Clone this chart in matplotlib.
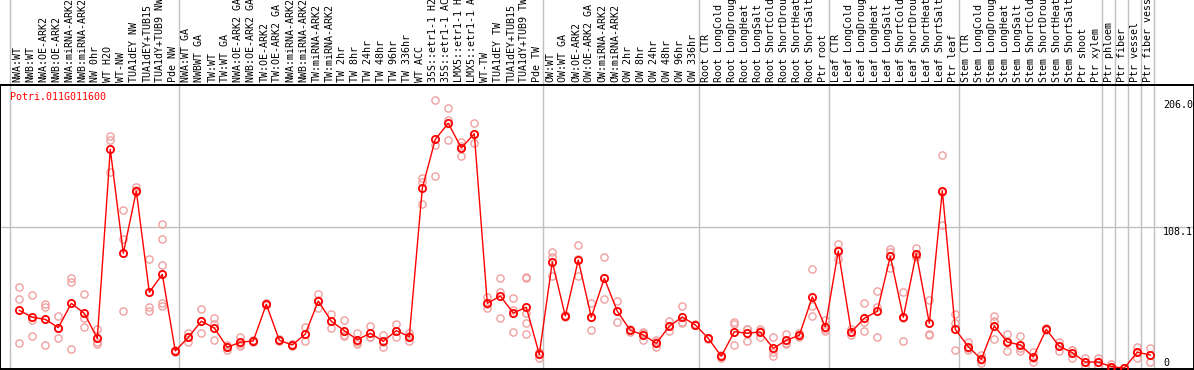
import matplotlib
matplotlib.use("Agg")
import matplotlib.pyplot as plt
import matplotlib.transforms as mtransforms

gene = "Potri.011G011600"

samples = [
    "NWA:WT", "NWB:WT", "NWA:OE-ARK2", "NWB:OE-ARK2", "NWA:miRNA-ARK2",
    "NWB:miRNA-ARK2", "NW 0hr", "WT H2O", "WT-NW", "TUA1dEY NW",
    "TUA1dEY+TUB15", "TUA1dY+TUB9 NW", "Pde NW",
    "NWA:WT GA", "NWBWT GA", "TW:WT", "TW:WT GA", "NWA:OE-ARK2 GA",
    "NWB:OE-ARK2 GA", "TW:OE-ARK2", "TW:OE-ARK2 GA", "NWA:miRNA-ARK2",
    "NWB:miRNA-ARK2", "TW:miRNA-ARK2", "TW:miRNA-ARK2", "TW 2hr", "TW 8hr",
    "TW 24hr", "TW 48hr", "TW 96hr", "TW 336hr", "WT ACC", "35S::etr1-1 H2O",
    "35S::etr1-1 ACC", "LMX5::etr1-1 H2O", "LMX5::etr1-1 ACC", "WT-TW",
    "TUA1dEY TW", "TUA1dEY+TUB15", "TUA1dY+TUB9 TW", "Pde TW",
    "OW:WT", "OW:WT GA", "OW:OE-ARK2", "OW:OE-ARK2 GA", "OW:miRNA-ARK2",
    "OW:miRNA-ARK2", "OW 2hr", "OW 8hr", "OW 24hr", "OW 48hr", "OW 96hr",
    "OW 336hr",
    "Root CTR", "Root LongCold", "Root LongDrought", "Root LongHeat",
    "Root LongSalt", "Root ShortCold", "Root ShortDrought", "Root ShortHeat",
    "Root ShortSalt", "Ptr root",
    "Leaf CTR", "Leaf LongCold", "Leaf LongDrought", "Leaf LongHeat",
    "Leaf LongSalt", "Leaf ShortCold", "Leaf ShortDrought", "Leaf ShortHeat",
    "Leaf ShortSalt", "Ptr leaf",
    "Stem CTR", "Stem LongCold", "Stem LongDrought", "Stem LongHeat",
    "Stem LongSalt", "Stem ShortCold", "Stem ShortDrought", "Stem ShortHeat",
    "Stem ShortSalt", "Ptr shoot", "Ptr xylem",
    "Ptr phloem", "Ptr fiber", "Ptr vessel", "Ptr fiber vessel",
]

# index where each group of samples starts (vertical separators)
group_starts = [0, 13, 41, 53, 63, 73, 84, 85, 86, 87, 88]

means = [
    44.3, 39.0, 37.4, 31.0, 49.7, 42.0, 22.8, 168.1, 88.2, 136.0,
    58.2, 72.0, 13.1, 23.6, 35.9, 30.7, 15.9, 19.8, 20.8, 49.0,
    21.3, 17.7, 26.1, 51.5, 35.9, 28.7, 21.8, 26.7, 20.5, 28.7,
    24.1, 138.1, 175.8, 188.1, 169.1, 180.1, 49.7, 55.3, 42.3, 46.7,
    10.5, 81.5, 40.0, 83.0, 39.0, 68.9, 43.6, 29.0, 25.4, 19.0,
    32.1, 39.2, 33.1, 22.8, 9.0, 27.9, 26.7, 27.7, 15.1, 21.3,
    25.1, 54.6, 31.7, 89.9, 27.7, 38.2, 43.6, 85.9, 39.0, 87.9,
    34.4, 136.3, 29.7, 16.4, 6.7, 32.3, 20.0, 17.7, 8.5, 29.7,
    16.7, 11.8, 4.6, 4.6, 1.0, 0.0, 12.1, 10.0,
]

replicates = [
    [62.0, 52.8, 19.0], [55.9, 36.7, 24.6], [49.4, 47.1, 17.4],
    [39.7, 30.5, 22.8], [68.9, 65.9, 14.4], [57.1, 38.2, 31.3],
    [29.7, 20.2, 18.4], [178.3, 175.3, 150.9], [121.2, 99.2, 43.6],
    [139.4, 136.8, 135.5], [83.6, 47.1, 43.6],
    [110.4, 98.9, 78.9, 49.7, 47.7], [13.9, 12.5, 13.0],
    [27.1, 23.5, 20.2], [45.3, 35.8, 26.6], [38.2, 33.6, 21.3],
    [17.7, 16.0, 13.8], [24.1, 18.6, 16.7], [21.8, 21.0, 19.8],
    [49.8, 49.0, 48.3], [22.0, 21.3, 20.7], [18.2, 17.6, 17.2],
    [31.3, 26.0, 21.0], [56.6, 51.9, 45.9], [41.3, 35.9, 30.5],
    [36.7, 25.1, 24.3], [26.7, 20.0, 18.7], [32.5, 24.0, 23.6],
    [25.4, 20.2, 15.9], [34.1, 28.4, 23.6], [26.9, 24.4, 21.0],
    [145.8, 143.2, 125.8], [206.0, 171.4, 147.6], [199.6, 190.6, 175.0],
    [173.5, 171.0, 163.0], [188.1, 179.5, 172.7], [54.6, 49.0, 45.9],
    [68.9, 58.6, 38.2], [53.6, 44.4, 27.9],
    [69.7, 68.9, 42.0, 34.6, 25.9], [12.5, 11.0, 7.5],
    [88.9, 85.0, 70.5], [40.5, 40.0, 39.5], [94.3, 84.0, 70.5],
    [49.7, 39.0, 29.0], [85.1, 68.9, 52.8], [51.5, 44.0, 35.1],
    [30.0, 29.5, 27.5], [27.9, 26.8, 21.5], [21.5, 19.6, 15.9],
    [36.1, 32.0, 28.4], [47.7, 35.5, 34.4], [33.5, 33.0, 32.8],
    [23.2, 22.8, 22.4], [10.0, 9.0, 8.0], [35.1, 33.6, 17.4],
    [29.9, 29.7, 20.5], [30.2, 28.8, 24.1], [23.6, 12.5, 9.5],
    [26.1, 19.4, 18.4], [26.7, 24.5, 24.1], [76.1, 47.4, 39.7],
    [36.7, 30.0, 28.4], [95.1, 90.8, 83.8], [30.0, 27.5, 25.5],
    [49.7, 35.4, 28.2], [59.2, 47.1, 23.6], [91.5, 89.0, 77.1],
    [58.2, 38.3, 20.5], [92.0, 86.0, 85.6], [52.0, 26.1, 25.4],
    [163.7, 135.3, 109.9], [41.3, 34.6, 13.6], [20.2, 15.0, 13.8],
    [10.0, 6.5, 3.6], [39.7, 36.1, 22.1], [26.1, 20.8, 13.1],
    [24.8, 15.0, 13.3], [12.5, 8.0, 4.8], [30.5, 29.7, 29.0],
    [19.8, 17.0, 13.3], [14.0, 13.8, 7.5], [7.9, 4.4, 1.5],
    [7.5, 4.5, 1.8], [3.0, 0.0, 0.0], [0.0, 0.0, 0.0],
    [16.4, 12.0, 7.9], [15.1, 10.0, 4.8],
]

yticks = [0, 108.1, 206.0]
ytick_labels = ["0", "108.1", "206.0"]

W, H = 1194, 370
MONO = "DejaVu Sans Mono"
GRID = "#c0c0c0"

fig = plt.figure(figsize=(W / 100, H / 100), dpi=100)
ax = fig.add_axes([0, 1 / H, 1, 284 / H])
lab = fig.add_axes([0, 285 / H, 1, 85 / H])

# column i sits at pixel 19.3 + 13*i
xlim = (-19.3 / 13, (W - 19.3) / 13)
for a in (ax, lab):
    a.set_xlim(*xlim)
lab.set_ylim(0, 1)
lab.axis("off")

ax.set_ylim(-0.77, 217.5)
ax.set_xticks([])
ax.set_yticks([])
for s in ax.spines.values():
    s.set_linewidth(1.4)
    s.set_color("black")
lab.plot([0, 1], [0, 0], transform=lab.transAxes, color="black", lw=1.4,
         clip_on=False)

for g in group_starts:
    ax.axvline(g - 0.715, color=GRID, lw=1.0, zorder=0)
    lab.axvline(g - 0.715, color=GRID, lw=1.0, zorder=0)
ax.axhline(yticks[1], color=GRID, lw=1.0, zorder=0)

for i, name in enumerate(samples):
    lab.text(i - 0.15, 0.03, name, rotation=90, ha="center", va="bottom",
             family=MONO, fontsize=7.2, color="black")

xs = list(range(len(samples)))
for i, reps in enumerate(replicates):
    ax.plot([i] * len(reps), reps, "o", ms=5.2, mfc="none", mec="#f0a0a0",
            mew=1.0, zorder=2)
ax.plot(xs, means, "-", color="#ff0000", lw=1.0, zorder=3)
ax.plot(xs, means, "o", ms=5.2, mfc="none", mec="#ff0000", mew=1.3, zorder=4)

ax.text(10 / W, 0.957, gene, transform=ax.transAxes, color="#ff0000",
        family=MONO, fontsize=7.2, ha="left", va="center")

trans = mtransforms.blended_transform_factory(ax.transAxes, ax.transData)
for v, t in zip(yticks, ytick_labels):
    va = "bottom" if v == 0 else "top"
    ax.text(1163 / W, v, t, transform=trans, ha="left", va=va,
            family=MONO, fontsize=7.2, color="black")

fig.savefig("out.png", dpi=100)
